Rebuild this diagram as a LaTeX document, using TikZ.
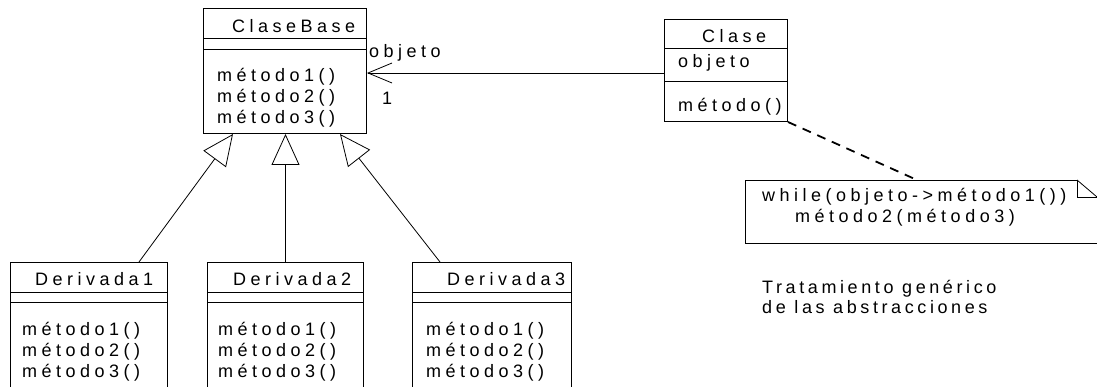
\documentclass[tikz,border=0pt]{standalone}
\usepackage{fontspec}
\setmainfont{Liberation Sans}
\newfontfamily\umlfont[LetterSpace=25]{Liberation Sans}
\newfontfamily\notefont[LetterSpace=20]{Liberation Sans}
\usetikzlibrary{arrows.meta}
\begin{document}
\begin{tikzpicture}[x=1pt,y=-1pt,
  box/.style={draw, line width=1pt, rectangle, anchor=north west, inner sep=0pt},
  txt/.style={anchor=base west, inner sep=0pt, font=\umlfont\fontsize{18}{20}\selectfont},
  ntxt/.style={anchor=base west, inner sep=0pt, font=\notefont\fontsize{18}{20}\selectfont},
  gen/.style={-{Triangle[open,length=31pt,width=28pt]}, line width=0.8pt},
  assoc/.style={-{Straight Barb[length=24pt,width=20pt]}, line width=0.8pt},
  dashline/.style={line width=1.8pt, dash pattern=on 9pt off 7pt},
  sep/.style={line width=0.8pt}
  ]
\useasboundingbox (0,0) rectangle (1097,387);
\clip (0,0) rectangle (1097,387);
% ClaseBase
\node[box, minimum width=163pt, minimum height=125pt] (cb) at (203,8) {};
\draw[sep] ([yshift=-30pt]cb.north west) -- ([yshift=-30pt]cb.north east);
\draw[sep] ([yshift=-41pt]cb.north west) -- ([yshift=-41pt]cb.north east);
\node[txt] (cbt) at (232,33) {ClaseBase};
\node[txt] (cbm1) at (217,82) {método1()};
\node[txt] (cbm2) at (217,103) {método2()};
\node[txt] (cbm3) at (217,124) {método3()};
% Clase
\node[box, minimum width=123pt, minimum height=102pt] (cl) at (664,19) {};
\draw[sep] ([yshift=-29pt]cl.north west) -- ([yshift=-29pt]cl.north east);
\draw[sep] ([yshift=-62pt]cl.north west) -- ([yshift=-62pt]cl.north east);
\node[txt] (clt) at (702,43) {Clase};
\node[txt] (cla) at (678,68) {objeto};
\node[txt] (clm) at (678,112) {método()};
% Derivadas
\node[box, minimum width=157pt, minimum height=140pt] (d1) at (10,262) {};
\node[box, minimum width=156pt, minimum height=140pt] (d2) at (207,262) {};
\node[box, minimum width=159pt, minimum height=140pt] (d3) at (412,262) {};
\foreach \d in {d1,d2,d3}{
  \draw[sep] ([yshift=-30pt]\d.north west) -- ([yshift=-30pt]\d.north east);
  \draw[sep] ([yshift=-40pt]\d.north west) -- ([yshift=-40pt]\d.north east);
}
\node[txt] (d1t) at (35,286) {Derivada1};
\node[txt] (d2t) at (233,286) {Derivada2};
\node[txt] (d3t) at (447,286) {Derivada3};
\node[txt] (d1m1) at (22,335) {método1()};
\node[txt] (d1m2) at (22,356) {método2()};
\node[txt] (d1m3) at (22,377) {método3()};
\node[txt] (d2m1) at (218,335) {método1()};
\node[txt] (d2m2) at (218,356) {método2()};
\node[txt] (d2m3) at (218,377) {método3()};
\node[txt] (d3m1) at (426,335) {método1()};
\node[txt] (d3m2) at (426,356) {método2()};
\node[txt] (d3m3) at (426,377) {método3()};
% generalization
\draw[gen] ([xshift=-29pt]d1.north east) -- ([xshift=30pt]cb.south west);
\draw[gen] (d2.north) -- (d2.north |- cb.south);
\draw[gen] ([xshift=28pt]d3.north west) -- ([xshift=-27pt]cb.south east);
% association
\draw[assoc] (cl.west |- 0,73) -- (cb.east |- 0,73);
\node[txt] (role) at (369,58) {objeto};
\node[txt] (mult) at (382,105) {1};
% note
\coordinate (n1) at (745,180);
\coordinate (nt) at (917,180);
\draw[line width=0.8pt] (1077,180) -- (n1) -- (745,243) -- (1110,243);
\draw[line width=0.8pt] (1077,180) -- (1077,197) -- (1110,197);
\draw[line width=0.8pt] (1077,180) -- (1097,197);
\draw[dashline] (cl.south east) -- (nt);
\node[txt] (nl1) at (762,202) {while(objeto->método1())};
\node[txt] (nl2) at (795,223) {método2(método3)};
\node[ntxt] (tr1) at (762,293) {Tratamiento genérico};
\node[ntxt] (tr2) at (762,313) {de las abstracciones};
\end{tikzpicture}
\end{document}
